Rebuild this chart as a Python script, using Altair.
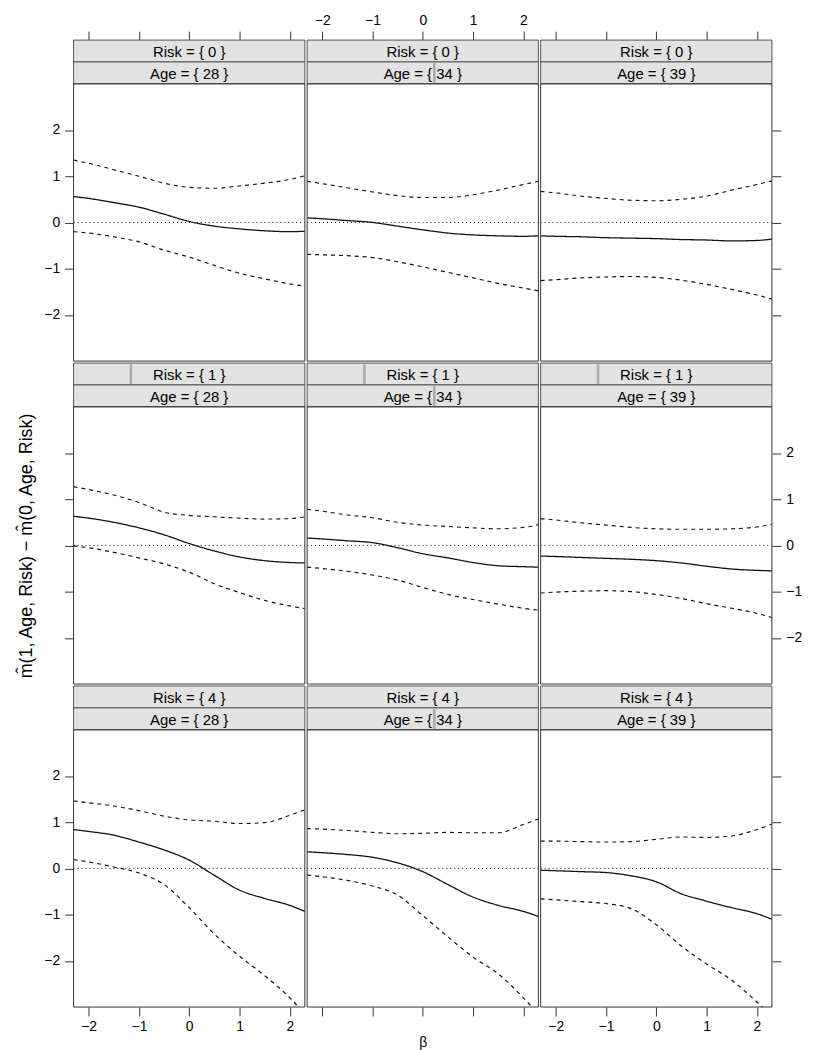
import altair as alt
import pandas as pd

# ---------------- data ----------------
BETA = [-2.3, -2, -1.5, -1, -0.5, 0, 0.5, 1, 1.5, 2, 2.3]
RISK = [0, 1, 4]
AGE = [28, 34, 39]

# Risk = 0
fit_r0_a28 = [0.56, 0.52, 0.43, 0.33, 0.18, 0.02, -0.08, -0.14, -0.18, -0.20, -0.19]
lo_r0_a28 = [-0.20, -0.23, -0.31, -0.42, -0.60, -0.75, -0.93, -1.10, -1.22, -1.33, -1.38]
hi_r0_a28 = [1.35, 1.28, 1.14, 1.00, 0.85, 0.76, 0.74, 0.79, 0.85, 0.93, 1.01]

fit_r0_a34 = [0.10, 0.08, 0.04, 0.00, -0.08, -0.16, -0.23, -0.27, -0.29, -0.30, -0.29]
lo_r0_a34 = [-0.69, -0.70, -0.72, -0.76, -0.85, -0.96, -1.08, -1.20, -1.32, -1.42, -1.48]
hi_r0_a34 = [0.89, 0.84, 0.75, 0.66, 0.58, 0.54, 0.54, 0.60, 0.70, 0.82, 0.89]

fit_r0_a39 = [-0.29, -0.30, -0.31, -0.33, -0.34, -0.35, -0.37, -0.38, -0.40, -0.39, -0.36]
lo_r0_a39 = [-1.26, -1.24, -1.20, -1.18, -1.17, -1.19, -1.25, -1.34, -1.45, -1.57, -1.66]
hi_r0_a39 = [0.67, 0.64, 0.57, 0.52, 0.48, 0.47, 0.50, 0.57, 0.70, 0.82, 0.90]

# Risk = 1
fit_r1_a28 = [0.63, 0.59, 0.50, 0.38, 0.23, 0.04, -0.12, -0.25, -0.33, -0.37, -0.38]
lo_r1_a28 = [-0.01, -0.05, -0.15, -0.27, -0.40, -0.58, -0.83, -1.02, -1.19, -1.31, -1.37]
hi_r1_a28 = [1.27, 1.21, 1.09, 0.93, 0.72, 0.65, 0.62, 0.59, 0.57, 0.58, 0.62]

fit_r1_a34 = [0.16, 0.14, 0.10, 0.06, -0.05, -0.18, -0.27, -0.37, -0.44, -0.46, -0.47]
lo_r1_a34 = [-0.47, -0.50, -0.56, -0.64, -0.75, -0.91, -1.06, -1.17, -1.27, -1.36, -1.40]
hi_r1_a34 = [0.78, 0.74, 0.66, 0.60, 0.50, 0.44, 0.41, 0.38, 0.36, 0.39, 0.45]

fit_r1_a39 = [-0.23, -0.24, -0.26, -0.28, -0.30, -0.33, -0.38, -0.45, -0.51, -0.54, -0.55]
lo_r1_a39 = [-1.03, -1.01, -0.99, -0.98, -1.00, -1.06, -1.15, -1.26, -1.36, -1.47, -1.56]
hi_r1_a39 = [0.58, 0.55, 0.49, 0.44, 0.39, 0.36, 0.35, 0.35, 0.36, 0.40, 0.46]

# Risk = 4
fit_r4_a28 = [0.84, 0.80, 0.72, 0.57, 0.40, 0.18, -0.15, -0.47, -0.65, -0.80, -0.93]
lo_r4_a28 = [0.19, 0.14, 0.03, -0.10, -0.35, -0.85, -1.42, -1.90, -2.32, -2.80, -3.15]
hi_r4_a28 = [1.46, 1.42, 1.35, 1.25, 1.13, 1.05, 1.02, 0.97, 0.99, 1.15, 1.27]

fit_r4_a34 = [0.36, 0.34, 0.30, 0.24, 0.12, -0.07, -0.35, -0.62, -0.80, -0.93, -1.04]
lo_r4_a34 = [-0.14, -0.18, -0.26, -0.38, -0.58, -1.02, -1.48, -1.92, -2.28, -2.80, -3.15]
hi_r4_a34 = [0.86, 0.85, 0.82, 0.78, 0.75, 0.76, 0.78, 0.77, 0.77, 0.95, 1.07]

fit_r4_a39 = [-0.04, -0.05, -0.07, -0.09, -0.16, -0.29, -0.55, -0.71, -0.85, -0.98, -1.10]
lo_r4_a39 = [-0.66, -0.68, -0.72, -0.76, -0.87, -1.22, -1.68, -2.07, -2.42, -2.89, -3.20]
hi_r4_a39 = [0.59, 0.59, 0.58, 0.57, 0.58, 0.63, 0.68, 0.67, 0.70, 0.84, 0.96]

SERIES = {
    (0, 0): (fit_r0_a28, lo_r0_a28, hi_r0_a28),
    (0, 1): (fit_r0_a34, lo_r0_a34, hi_r0_a34),
    (0, 2): (fit_r0_a39, lo_r0_a39, hi_r0_a39),
    (1, 0): (fit_r1_a28, lo_r1_a28, hi_r1_a28),
    (1, 1): (fit_r1_a34, lo_r1_a34, hi_r1_a34),
    (1, 2): (fit_r1_a39, lo_r1_a39, hi_r1_a39),
    (2, 0): (fit_r4_a28, lo_r4_a28, hi_r4_a28),
    (2, 1): (fit_r4_a34, lo_r4_a34, hi_r4_a34),
    (2, 2): (fit_r4_a39, lo_r4_a39, hi_r4_a39),
}

# strip level markers (beta-scale positions of the gray bars in the strips)
RISK_MARK = {1: -1.16}
AGE_MARK = {34: 0.23}

X_TICKS = [-2, -1, 0, 1, 2]
Y_TICKS = [-2, -1, 0, 1, 2]
Y_TITLE = "m\u0302(1, Age, Risk) \u2212 m\u0302(0, Age, Risk)"
X_TITLE = "\u03b2"

# ---------------- layout ----------------
FONT = "Liberation Sans"
W = 232.7
SH = 22
PH = 279
H = 2 * SH + PH
XMIN, XMAX = -2.3, 2.3
YMIN = -3.0
YMAX = YMIN + 6.0 * H / PH  # plot region -3..3 occupies the bottom PH pixels


def xpix(b):
    return (b - XMIN) / (XMAX - XMIN) * W


axis_common = dict(
    grid=False, domain=False, ticks=True, tickSize=9, tickColor="#333",
    tickWidth=1, labelFont=FONT, labelFontSize=14, labelColor="#000",
    titleFont=FONT, titleFontWeight="normal", titleColor="#000",
)


def cell(ri, ai):
    fit, lo, hi = SERIES[(ri, ai)]
    rows = []
    for name, vals in (("fit", fit), ("lo", lo), ("hi", hi)):
        for b, v in zip(BETA, vals):
            rows.append({"beta": b, "val": v, "s": name})
    for b in (XMIN, XMAX):
        rows.append({"beta": b, "val": 0.0, "s": "zero"})
    df = pd.DataFrame(rows)

    # x axis
    if ri == 0:
        xax = alt.Axis(orient="top", values=X_TICKS, labelPadding=4,
                       labelOpacity=1 if ai == 1 else 0, title=None, **axis_common)
    elif ri == 2:
        if ai == 1:
            xax = alt.Axis(orient="bottom", values=X_TICKS, labelPadding=4,
                           labelOpacity=0, title=X_TITLE, titlePadding=2,
                           titleFontSize=14, **axis_common)
        else:
            xax = alt.Axis(orient="bottom", values=X_TICKS, labelPadding=4,
                           title=None, **axis_common)
    else:
        xax = None
    # y axis
    if ai == 0:
        yax = alt.Axis(orient="left", values=Y_TICKS, labelPadding=5,
                       labelOpacity=0 if ri == 1 else 1, title=Y_TITLE,
                       titleOpacity=1 if ri == 1 else 0, titleY=2 * SH + PH / 2,
                       titleFontSize=18, titlePadding=8, **axis_common)
    elif ai == 2:
        yax = alt.Axis(orient="right", values=Y_TICKS, labelPadding=5,
                       labelOpacity=1 if ri == 1 else 0, title=None, **axis_common)
    else:
        yax = None

    lines = alt.Chart(df).mark_line(interpolate="monotone", clip=True, color="#111").encode(
        x=alt.X("beta:Q", scale=alt.Scale(domain=[XMIN, XMAX], nice=False, zero=False), axis=xax),
        y=alt.Y("val:Q", scale=alt.Scale(domain=[YMIN, YMAX], nice=False, zero=False), axis=yax),
        strokeDash=alt.StrokeDash("s:N", scale=alt.Scale(domain=["fit", "lo", "hi", "zero"],
                                  range=[[1, 0], [4, 4], [4, 4], [1, 3]]), legend=None),
        strokeWidth=alt.StrokeWidth("s:N", scale=alt.Scale(domain=["fit", "lo", "hi", "zero"],
                                    range=[1.3, 1.0, 1.0, 1.0]), legend=None),
        order=alt.Order("beta:Q"),
    )

    risk_lab = pd.DataFrame({"t": ["Risk = { %d }" % RISK[ri]]})
    age_lab = pd.DataFrame({"t": ["Age = { %d }" % AGE[ai]]})

    strip1 = alt.Chart(risk_lab).mark_rect(fill="#e2e2e2", stroke="#555", strokeWidth=1).encode(
        x=alt.value(0), x2=alt.value(W), y=alt.value(0), y2=alt.value(SH))
    strip2 = alt.Chart(age_lab).mark_rect(fill="#e2e2e2", stroke="#555", strokeWidth=1).encode(
        x=alt.value(0), x2=alt.value(W), y=alt.value(SH), y2=alt.value(2 * SH))
    layers = [strip1, strip2]

    if RISK[ri] in RISK_MARK:
        px = xpix(RISK_MARK[RISK[ri]])
        layers.append(alt.Chart(risk_lab).mark_rule(color="#aaa", strokeWidth=2.5).encode(
            x=alt.value(px), y=alt.value(1), y2=alt.value(SH - 1)))
    if AGE[ai] in AGE_MARK:
        px = xpix(AGE_MARK[AGE[ai]])
        layers.append(alt.Chart(age_lab).mark_rule(color="#aaa", strokeWidth=2.5).encode(
            x=alt.value(px), y=alt.value(SH + 1), y2=alt.value(2 * SH - 1)))

    text1 = alt.Chart(risk_lab).mark_text(font=FONT, fontSize=15, color="#000",
                                          align="center", baseline="middle").encode(
        x=alt.value(W / 2), y=alt.value(SH / 2 + 1), text="t:N")
    text2 = alt.Chart(age_lab).mark_text(font=FONT, fontSize=15, color="#000",
                                         align="center", baseline="middle").encode(
        x=alt.value(W / 2), y=alt.value(SH + SH / 2 + 1), text="t:N")
    border = alt.Chart(risk_lab).mark_rect(fillOpacity=0, stroke="#333", strokeWidth=1).encode(
        x=alt.value(0), x2=alt.value(W), y=alt.value(2 * SH), y2=alt.value(H))

    layers += [text1, text2, lines, border]
    return alt.layer(*layers).properties(width=W, height=H)


rows = [alt.hconcat(*[cell(ri, ai) for ai in range(3)], spacing=0) for ri in range(3)]
chart = alt.vconcat(*rows, spacing=0).properties(
    padding={"left": 10, "top": 2, "right": 5, "bottom": 5}
).configure_view(stroke=None)

chart.save("out.html", embed_options={"renderer": "svg", "actions": False})
